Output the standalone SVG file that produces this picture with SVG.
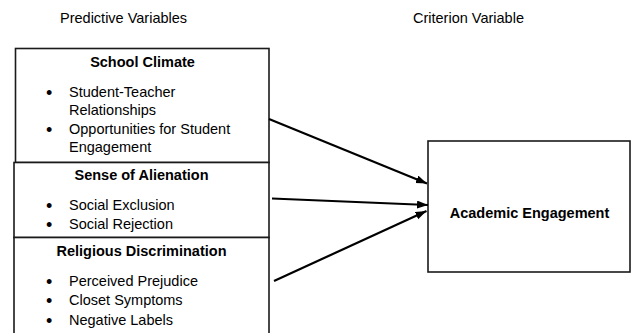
<svg xmlns="http://www.w3.org/2000/svg" width="632" height="333" viewBox="0 0 632 333">
<style>
text{font-family:"Liberation Sans",Arial,sans-serif;font-size:14.5px;fill:#000}
.h{font-weight:bold;text-anchor:middle}
.b{font-size:18px}
.box{fill:#fff;stroke:#1a1a1a;stroke-width:1.6}
.conn{stroke:#000;stroke-width:2.2;fill:none}
</style>
<defs>
<marker id="ah" markerUnits="userSpaceOnUse" markerWidth="12" markerHeight="10" refX="11" refY="4" orient="auto">
<path d="M0,0 L11,4 L0,8 Z" fill="#000"/>
</marker>
</defs>
<rect width="632" height="333" fill="#fff"/>
<text x="60" y="23" fill="#222">Predictive Variables</text>
<text x="413" y="23" fill="#222">Criterion Variable</text>
<g id="school-climate">
<rect class="box" x="15.5" y="48.5" width="253.5" height="114"/>
<text class="h" x="142.5" y="67">School Climate</text>
<text class="b" x="46" y="98.5">•</text><text x="69" y="97">Student-Teacher</text>
<text x="69" y="115">Relationships</text>
<text class="b" x="46" y="135.5">•</text><text x="69" y="134">Opportunities for Student</text>
<text x="69" y="152">Engagement</text>
</g>
<g id="sense-of-alienation">
<rect class="box" x="14" y="162.5" width="255" height="75"/>
<text class="h" x="141.5" y="180">Sense of Alienation</text>
<text class="b" x="46" y="211.5">•</text><text x="69" y="210">Social Exclusion</text>
<text class="b" x="46" y="230.5">•</text><text x="69" y="229">Social Rejection</text>
</g>
<g id="religious-discrimination">
<rect class="box" x="14" y="237.5" width="255" height="100"/>
<text class="h" x="141.5" y="256">Religious Discrimination</text>
<text class="b" x="46" y="287.5">•</text><text x="69" y="286">Perceived Prejudice</text>
<text class="b" x="46" y="306.5">•</text><text x="69" y="305">Closet Symptoms</text>
<text class="b" x="46" y="326.5">•</text><text x="69" y="325">Negative Labels</text>
</g>
<g id="academic-engagement">
<rect class="box" x="428" y="141" width="202" height="131" stroke-width="2" stroke="#333"/>
<text class="h" x="529.5" y="218">Academic Engagement</text>
</g>
<g id="connectors">
<line class="conn" x1="269" y1="119" x2="427" y2="183.5" marker-end="url(#ah)"/>
<line class="conn" x1="272" y1="198.5" x2="428" y2="205" marker-end="url(#ah)"/>
<line class="conn" x1="274" y1="281" x2="426.5" y2="211" marker-end="url(#ah)"/>
</g>
</svg>
